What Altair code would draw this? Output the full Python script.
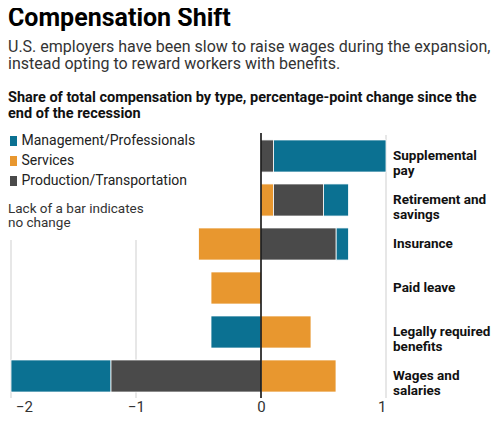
import altair as alt
import pandas as pd

categories = ["Supplemental pay", "Retirement and savings", "Insurance",
              "Paid leave", "Legally required benefits", "Wages and salaries"]
cat_labels = ["Supplemental\npay", "Retirement and\nsavings", "Insurance",
              "Paid leave", "Legally required\nbenefits", "Wages and\nsalaries"]
series = ["Management/Professionals", "Services", "Production/Transportation"]
management = [0.9, 0.2, 0.1, 0.0, -0.4, -0.8]
services = [0.0, 0.1, -0.5, -0.4, 0.4, 0.6]
production = [0.1, 0.4, 0.6, 0.0, 0.0, -1.2]
stack_order = {"Services": 0, "Production/Transportation": 1, "Management/Professionals": 2}
colors = ["#0b7192", "#e8972f", "#4a4a4a"]
ticks = [-2, -1, 0, 1]

rows = []
for i, c in enumerate(categories):
    for s, vals in zip(series, [management, services, production]):
        if vals[i] != 0:
            rows.append({"category": c, "type": s, "value": vals[i], "ord": stack_order[s]})
df = pd.DataFrame(rows)
lab_df = pd.DataFrame({"category": categories, "label": cat_labels})

FONT = "Roboto"

yenc = alt.Y("category:N", sort=categories, axis=None,
             scale=alt.Scale(paddingInner=0.27, paddingOuter=0.135))
xscale = alt.Scale(domain=[-2, 1], nice=False, zero=False)

grid_left = alt.Chart(pd.DataFrame({"v": [-2, -1]})).mark_rule(color="#cfcfcf", strokeWidth=1).encode(
    x=alt.X("v:Q", scale=xscale), y=alt.value(106), y2=alt.value(264))
grid_right = alt.Chart(pd.DataFrame({"v": [1]})).mark_rule(color="#cfcfcf", strokeWidth=1).encode(
    x=alt.X("v:Q", scale=xscale), y=alt.value(1), y2=alt.value(264))

bars = alt.Chart(df).mark_bar(stroke="white", strokeWidth=0.8).encode(
    x=alt.X("value:Q", scale=xscale, stack="zero", title=None,
            axis=alt.Axis(values=ticks, format="d", grid=False, ticks=False, domain=False,
                          labelFontSize=15, labelColor="#333", labelFont=FONT,
                          labelPadding=1,
                          labelOffset=alt.condition("datum.value == -2", alt.value(4.5), alt.value(0)))),
    y=yenc,
    color=alt.Color("type:N", scale=alt.Scale(domain=series, range=colors),
                    legend=alt.Legend(orient="none", legendX=-4.5, legendY=0, title=None,
                                      padding=0, labelLimit=0,
                                      symbolType="M-0.7,-1H0.7V1H-0.7Z", symbolSize=100,
                                      symbolStrokeWidth=0, labelFontSize=14, labelFont=FONT,
                                      labelColor="#222", rowPadding=6, labelOffset=1)),
    order=alt.Order("ord:Q"),
)

zero = alt.Chart(pd.DataFrame({"v": [0]})).mark_rule(color="black", strokeWidth=1.5).encode(
    x=alt.X("v:Q", scale=xscale), y=alt.value(-1), y2=alt.value(264))

cat_text = alt.Chart(lab_df).mark_text(align="left", baseline="middle", fontSize=13.5,
                                        fontWeight="bold", font=FONT, color="#111",
                                        lineBreak="\n", lineHeight=15).encode(
    y=yenc, x=alt.value(382), text="label:N")

def ann(text, x, y, size, weight="normal", color="#222", lh=None, baseline="alphabetic"):
    kw = dict(align="left", baseline=baseline, fontSize=size, fontWeight=weight,
              font=FONT, color=color, lineBreak="\n")
    if lh:
        kw["lineHeight"] = lh
    return alt.Chart(pd.DataFrame({"t": [text]})).mark_text(**kw).encode(
        x=alt.value(x), y=alt.value(y), text="t:N")

title = ann("Compensation Shift", -3, -108, 25, "bold", "#000")
sub = ann("U.S. employers have been slow to raise wages during the expansion,\ninstead opting to reward workers with benefits.",
          -3, -82, 16, "normal", "#333", 17)
head = ann("Share of total compensation by type, percentage-point change since the\nend of the recession",
           -3, -32, 14.5, "bold", "#111", 16)
note = ann("Lack of a bar indicates\nno change", -3, 75, 13.5, "normal", "#333", 14, "middle")

chart = alt.layer(grid_left, grid_right, bars, zero, cat_text, title, sub, head, note).properties(
    width=375, height=264,
    autosize=alt.AutoSizeParams(type="none"),
    padding={"left": 3, "top": 126, "right": 106, "bottom": 17},
).configure_view(stroke=None)

chart.save("out.html", embed_options={"renderer": "svg", "actions": False})
